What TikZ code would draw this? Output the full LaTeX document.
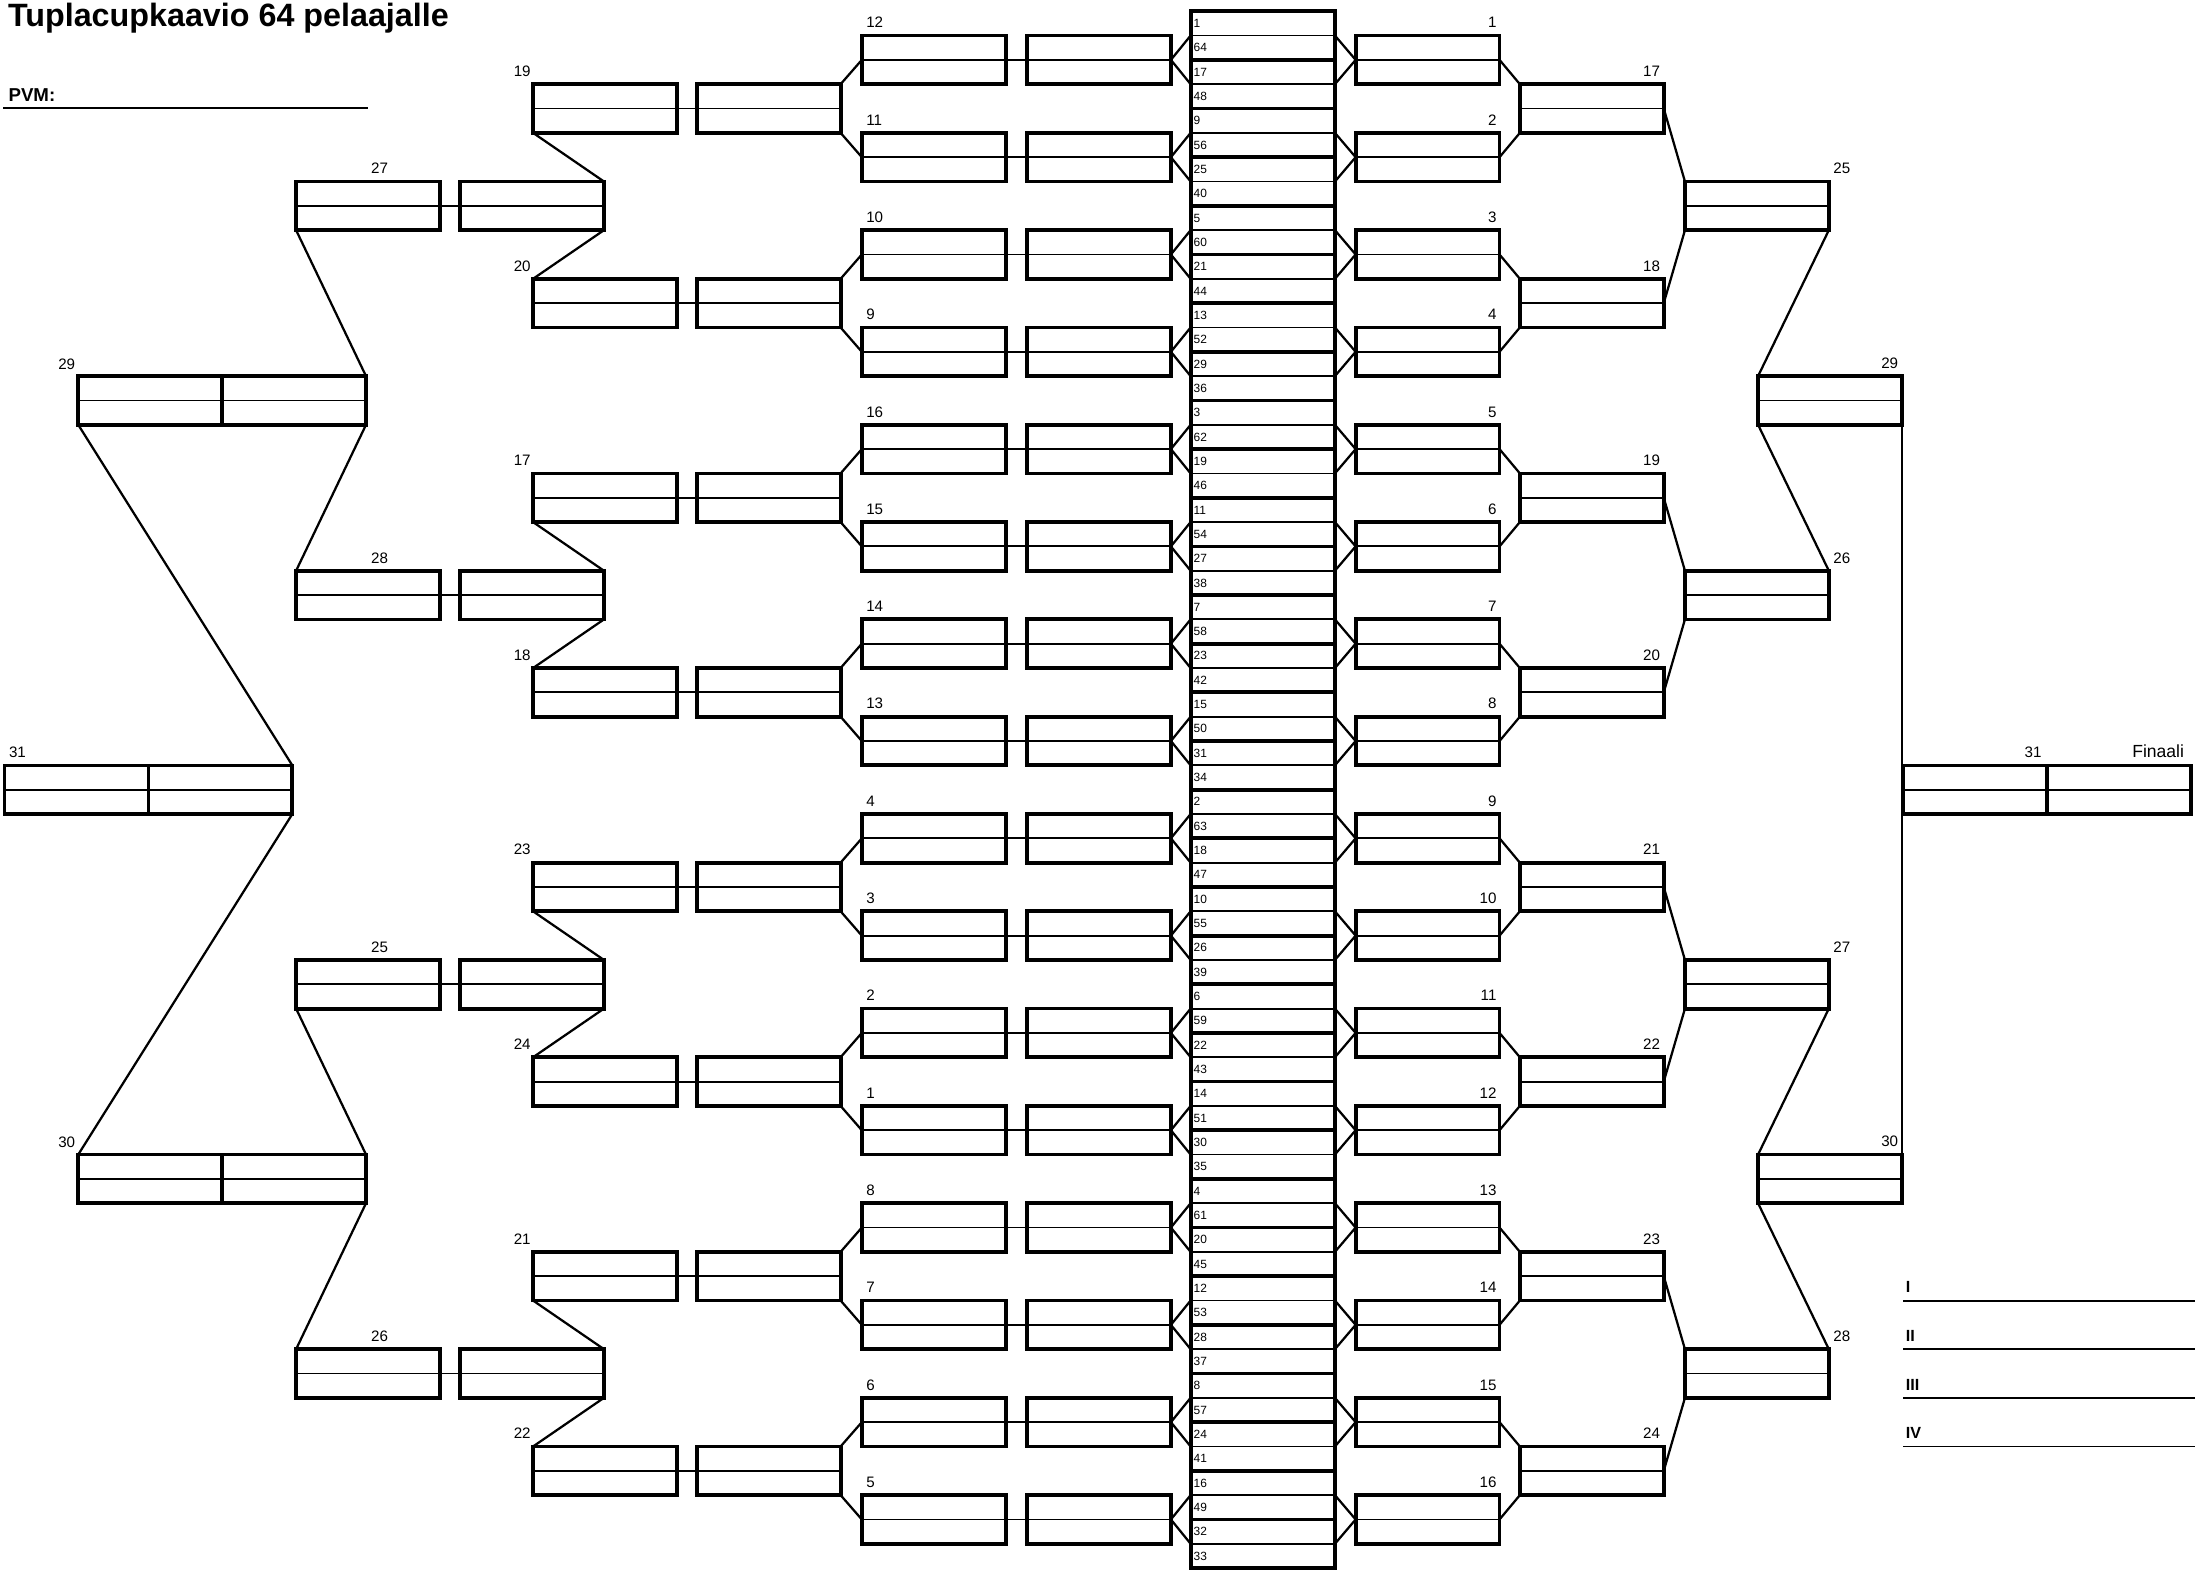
\documentclass[tikz,border=0pt]{standalone}
\usepackage{fontspec}
\setmainfont{Liberation Sans}
\usepackage{tikz}
\usetikzlibrary{calc}

\begin{document}
\begin{tikzpicture}[x=1pt,y=-1pt,
    half/.style={draw,line width=2.7pt,minimum width=102.5pt,minimum height=34.67pt,inner sep=0pt,outer sep=0pt},
    midline/.style={line width=1.3pt},
    link/.style={line width=1.6pt},
    rule/.style={line width=1.4pt},
    num/.style={inner sep=0pt,font=\fontsize{10.8}{13}\selectfont},
    seed/.style={inner sep=0pt,anchor=west,font=\fontsize{8.5}{10}\selectfont},
    tag/.style={inner sep=0pt,anchor=base west,font=\fontsize{11.5}{14}\selectfont\bfseries}]
  \useasboundingbox (0,0) rectangle (1568,1121);
  \node[anchor=base west,inner sep=0pt,font=\fontsize{23}{26}\selectfont\bfseries] (title) at (5.5,19) {Tuplacupkaavio 64 pelaajalle};
  \node[tag,font=\fontsize{13.3}{16}\selectfont\bfseries] (pvm) at (5.9,72.4) {PVM:};
  \coordinate (pvmA) at (2.4,77.2);
  \coordinate (pvmB) at (262,77.2);
  \draw[rule] (pvmA) -- (pvmB);

  \foreach \seedA/\seedB [count=\j from 0] in {1/64,17/48,9/56,25/40,5/60,21/44,13/52,29/36,3/62,19/46,11/54,27/38,7/58,23/42,15/50,31/34,2/63,18/47,10/55,26/39,6/59,22/43,14/51,30/35,4/61,20/45,12/53,28/37,8/57,24/41,16/49,32/33}{
    \node[half,minimum width=102.8pt] (c\j) at (899.6,{8+17.33*(2*\j+1)}) {};
    \draw[midline] (c\j.west) -- (c\j.east);
    \node[seed] (ca\j) at ([xshift=2pt,yshift=8.67pt]c\j.west) {\seedA};
    \node[seed] (cb\j) at ([xshift=2pt,yshift=-8.67pt]c\j.west) {\seedB};
  }

  \foreach \i in {0,...,15}{
    \pgfmathtruncatemacro\p{2*\i}
    \pgfmathtruncatemacro\q{2*\i+1}
    \pgfmathtruncatemacro\nn{\i+1}
    \node[half] (r\i) at (1017,{8+17.33*(4*\i+2)}) {};
    \draw[midline] (r\i.west) -- (r\i.east);
    \node[num,anchor=base east] (rn\i) at ([xshift=-2pt,yshift=5.5pt]r\i.north east) {\nn};
    \draw[link] (c\p.east) -- (r\i.west) -- (c\q.east);
  }

  \foreach \lab [count=\i from 0] in {12,11,10,9,16,15,14,13,4,3,2,1,8,7,6,5}{
    \pgfmathtruncatemacro\p{2*\i}
    \pgfmathtruncatemacro\q{2*\i+1}
    \node[half] (la\i) at (665.2,{8+17.33*(4*\i+2)}) {};
    \node[half] (lb\i) at (782.9,{8+17.33*(4*\i+2)}) {};
    \draw[midline] (la\i.west) -- (lb\i.east);
    \node[num,anchor=base west] (ln\i) at ([xshift=3pt,yshift=5.5pt]la\i.north west) {\lab};
    \draw[link] (c\p.west) -- (lb\i.east) -- (c\q.west);
  }

  \foreach \lab [count=\k from 0] in {19,20,17,18,23,24,21,22}{
    \pgfmathtruncatemacro\p{2*\k}
    \pgfmathtruncatemacro\q{2*\k+1}
    \node[half] (ma\k) at (431,{8+17.33*(8*\k+4)}) {};
    \node[half] (mb\k) at (547.6,{8+17.33*(8*\k+4)}) {};
    \draw[midline] (ma\k.west) -- (mb\k.east);
    \node[num,anchor=base east] (mn\k) at ([xshift=-1.5pt,yshift=5.5pt]ma\k.north west) {\lab};
    \draw[link] (la\p.west) -- (mb\k.north east);
    \draw[link] (la\q.west) -- (mb\k.south east);
  }

  \foreach \lab [count=\m from 0] in {27,28,25,26}{
    \pgfmathtruncatemacro\p{2*\m}
    \pgfmathtruncatemacro\q{2*\m+1}
    \node[half] (na\m) at (262.2,{8+17.33*(16*\m+8)}) {};
    \node[half] (nb\m) at (379,{8+17.33*(16*\m+8)}) {};
    \draw[midline] (na\m.west) -- (nb\m.east);
    \node[num,anchor=base west] (nn\m) at ([xshift=2pt,yshift=5.5pt]na\m.north) {\lab};
    \draw[link] (ma\p.south west) -- (nb\m.north east);
    \draw[link] (ma\q.north west) -- (nb\m.south east);
  }

  \foreach \lab [count=\n from 0] in {29,30}{
    \pgfmathtruncatemacro\p{2*\n}
    \pgfmathtruncatemacro\q{2*\n+1}
    \node[half] (oa\n) at (107,{8+17.33*(32*\n+16)}) {};
    \node[half] (ob\n) at (209.5,{8+17.33*(32*\n+16)}) {};
    \draw[midline] (oa\n.west) -- (ob\n.east);
    \node[num,anchor=base east] (on\n) at ([xshift=-2pt,yshift=5pt]oa\n.north west) {\lab};
    \draw[link] (na\p.south west) -- (ob\n.north east);
    \draw[link] (na\q.north west) -- (ob\n.south east);
  }

  \node[half] (pa) at (54.5,562.6) {};
  \node[half] (pb) at (157,562.6) {};
  \draw[midline] (pa.west) -- (pb.east);
  \node[num,anchor=base west] (pn) at ([xshift=3pt,yshift=5.5pt]pa.north west) {31};
  \draw[link] (oa0.south west) -- (pb.north east);
  \draw[link] (oa1.north west) -- (pb.south east);

  \foreach \k in {0,...,7}{
    \pgfmathtruncatemacro\p{2*\k}
    \pgfmathtruncatemacro\q{2*\k+1}
    \pgfmathtruncatemacro\nn{\k+17}
    \node[half] (s\k) at (1134,{8+17.33*(8*\k+4)}) {};
    \draw[midline] (s\k.west) -- (s\k.east);
    \node[num,anchor=base east] (sn\k) at ([xshift=-2.5pt,yshift=5.5pt]s\k.north east) {\nn};
    \draw[link] (r\p.east) -- (s\k.north west);
    \draw[link] (r\q.east) -- (s\k.south west);
  }

  \foreach \m in {0,...,3}{
    \pgfmathtruncatemacro\p{2*\m}
    \pgfmathtruncatemacro\q{2*\m+1}
    \pgfmathtruncatemacro\nn{\m+25}
    \node[half] (t\m) at (1251.6,{8+17.33*(16*\m+8)}) {};
    \draw[midline] (t\m.west) -- (t\m.east);
    \node[num,anchor=base west] (tn\m) at ([xshift=3pt,yshift=5.5pt]t\m.north east) {\nn};
    \draw[link] (s\p.east) -- (t\m.north west);
    \draw[link] (s\q.east) -- (t\m.south west);
  }

  \foreach \n in {0,1}{
    \pgfmathtruncatemacro\p{2*\n}
    \pgfmathtruncatemacro\q{2*\n+1}
    \pgfmathtruncatemacro\nn{\n+29}
    \node[half] (u\n) at (1303.7,{8+17.33*(32*\n+16)}) {};
    \draw[midline] (u\n.west) -- (u\n.east);
    \node[num,anchor=base east] (un\n) at ([xshift=-2.5pt,yshift=5.5pt]u\n.north east) {\nn};
    \draw[link] (t\p.south east) -- (u\n.north west);
    \draw[link] (t\q.north east) -- (u\n.south west);
  }
  \draw[rule] (u0.south east) -- (u1.north east);

  \node[half] (fa) at (1407.3,562.6) {};
  \node[half] (fb) at (1509.8,562.6) {};
  \draw[midline] (fa.west) -- (fb.east);
  \node[num,anchor=base east] (fn) at ([xshift=-4pt,yshift=5.5pt]fa.north east) {31};
  \node[anchor=base east,inner sep=0pt,font=\fontsize{12.5}{15}\selectfont] (finaali) at ([xshift=-5pt,yshift=5.5pt]fb.north east) {Finaali};

  \foreach \r/\k [count=\v] in {I/53,II/55,III/57,IV/59}{
    \coordinate (gs\v) at (1356,{8+17.33*\k});
    \coordinate (ge\v) at (1564,{8+17.33*\k});
    \draw[rule] (gs\v) -- (ge\v);
    \node[tag] (gl\v) at ([xshift=1.5pt,yshift=5.5pt]gs\v) {\r};
  }
\end{tikzpicture}
\end{document}
